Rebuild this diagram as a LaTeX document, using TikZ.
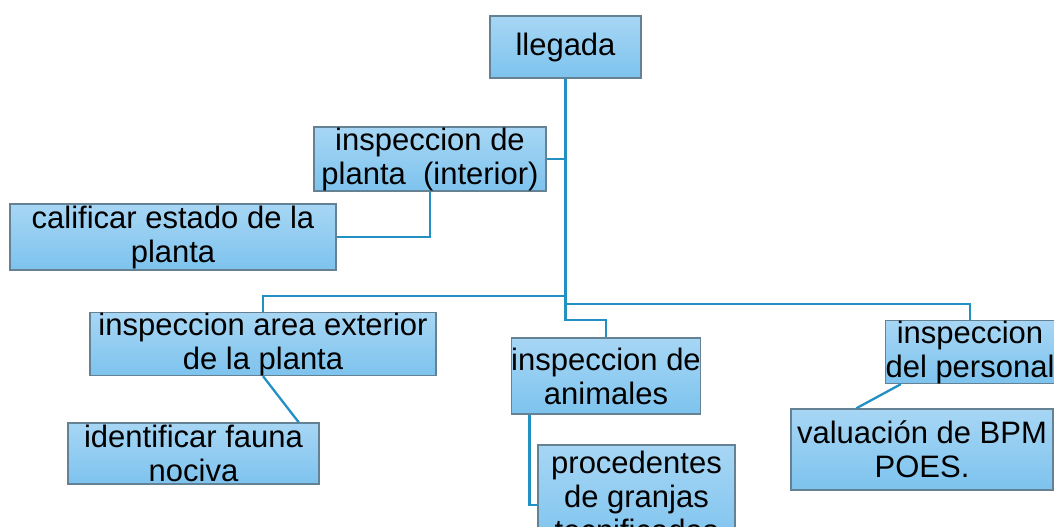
\documentclass[tikz,border=0pt]{standalone}
\usepackage{fontspec}
\setmainfont{Liberation Sans}
\usetikzlibrary{positioning}
\definecolor{boxtop}{RGB}{167,214,244}
\definecolor{boxbot}{RGB}{125,195,238}
\definecolor{boxline}{RGB}{100,130,148}
\definecolor{linkblue}{RGB}{35,144,196}
\tikzset{
    mybox/.style = {rectangle, draw=boxline, line width=1.4pt, top color=boxtop, bottom color=boxbot,
                    align=center, inner sep=0pt, font=\fontsize{31}{34}\selectfont},
    edgel/.style = {draw=linkblue, line width=2.3pt},
}
\begin{document}
\begin{tikzpicture}[x=1pt,y=-1pt]
\useasboundingbox (0,0) rectangle (1054,527);
\clip (0,0) rectangle (1054,527);
\node[mybox, minimum width=151pt, minimum height=62pt] at (565.5, 47) (llegada) {llegada};
\node[mybox, minimum width=232pt, minimum height=64pt] at (430, 159) (planta) {inspeccion de\\planta\ \ (interior)};
\node[mybox, minimum width=326pt, minimum height=66pt] at (173, 237) (calificar) {calificar estado de la\\planta};
\node[mybox, minimum width=346pt, minimum height=60pt] at (263, 344) (exterior) {inspeccion area exterior\\de la planta};
\node[mybox, minimum width=251pt, minimum height=61pt] at (193.5, 453.5) (fauna) {identificar fauna\\nociva};
\node[mybox, minimum width=186pt, minimum height=76pt] at (606, 376) (animales) {inspeccion de\\animales};
\node[mybox, minimum width=197pt, minimum height=102pt] at (636.5, 496) (granjas) {procedentes\\de granjas\\tecnificadas};
\node[mybox, minimum width=166pt, minimum height=60pt] at (970, 352) (personal) {inspeccion\\del personal};
\node[mybox, minimum width=262pt, minimum height=81pt] at (922, 449.5) (bpm) {valuación de BPM\\POES.};
%
\coordinate (jE) at (565.5, 296);
\coordinate (jP) at (565.5, 304);
\coordinate (jA) at (565.5, 320);
\draw[edgel] (llegada.south) -- (jA) -| (animales.north);
\draw[edgel] (planta.east) -- (planta.east -| llegada.south);
\draw[edgel] (planta.south) |- (calificar.east);
\draw[edgel] (jE) -| (exterior.north);
\draw[edgel] (jP) -| (personal.north);
\draw[edgel] (exterior.south) -- ([xshift=-21pt]fauna.north east);
\draw[edgel] ([xshift=19pt]animales.south west) |- ([yshift=-9pt]granjas.west);
\draw[edgel] ([xshift=16pt]personal.south west) -- ([xshift=66pt]bpm.north west);
\end{tikzpicture}
\end{document}
